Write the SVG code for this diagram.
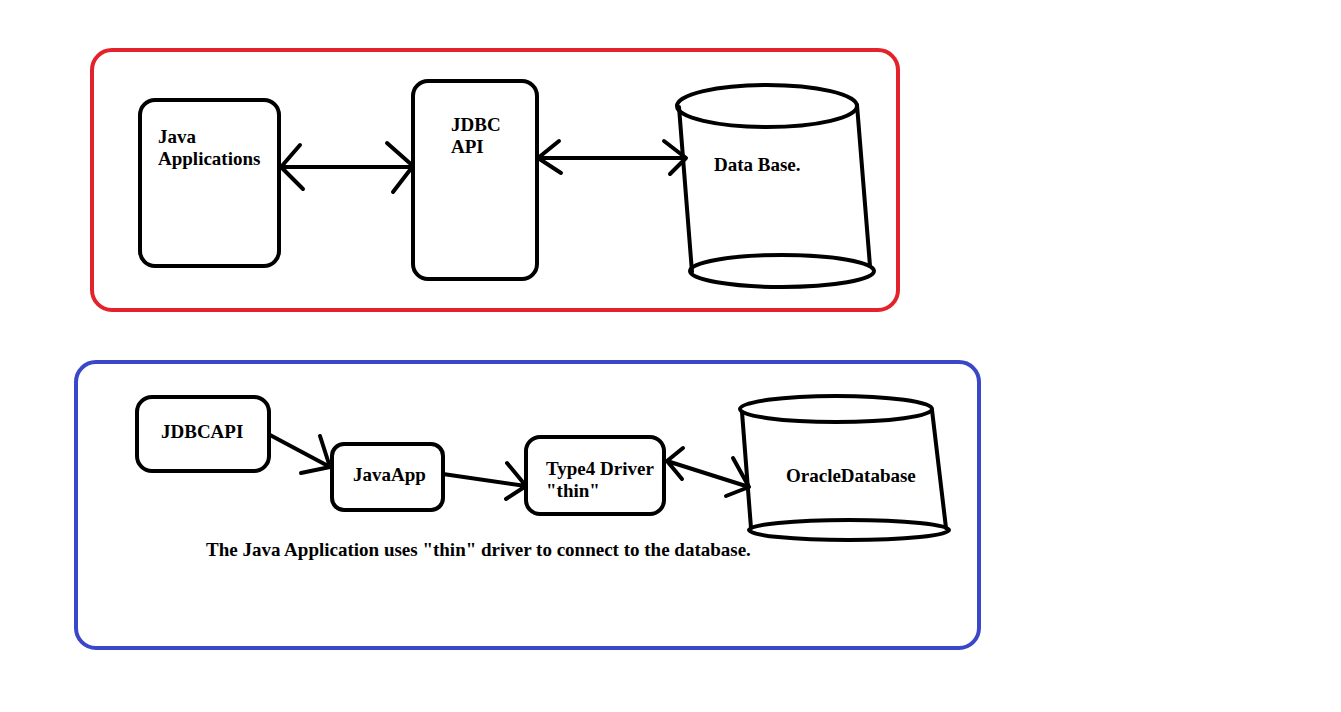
<svg xmlns="http://www.w3.org/2000/svg" width="1341" height="712" viewBox="0 0 1341 712">
<style>
.frame{fill:none;stroke-width:4}
.box{fill:#fff;stroke:#000;stroke-width:4}
.ln{fill:none;stroke:#000;stroke-width:4;stroke-linecap:round;stroke-linejoin:round}
.t{font-family:"Liberation Serif","Times New Roman",serif;font-weight:bold;font-size:19px;fill:#000}
</style>
<rect width="1341" height="712" fill="#fff"/>
<g id="frame-top"><rect class="frame" x="92" y="50" width="806" height="260" rx="20" stroke="#e3222b"/></g>
<g id="frame-bottom"><rect class="frame" x="76" y="362" width="903" height="286" rx="20" stroke="#3b47c9"/></g>

<g id="java-applications">
<rect class="box" x="140" y="100" width="139" height="166" rx="15"/>
<text class="t" x="158" y="143">Java</text>
<text class="t" x="158" y="165">Applications</text>
</g>
<g id="jdbc-api">
<rect class="box" x="413" y="81" width="124" height="198" rx="15"/>
<text class="t" x="451" y="131">JDBC</text>
<text class="t" x="451" y="153">API</text>
</g>
<g id="database">
<path class="ln" d="M679,107 L692,272 M857,105 L870,266"/>
<ellipse class="ln" cx="767" cy="106" rx="90" ry="21"/>
<ellipse class="ln" cx="782" cy="271" rx="92" ry="16"/>
<text class="t" x="714" y="171">Data Base.</text>
</g>

<g id="jdbcapi">
<rect class="box" x="137" y="397" width="132" height="74" rx="15"/>
<text class="t" x="161" y="438">JDBCAPI</text>
</g>
<g id="javaapp">
<rect class="box" x="332" y="444" width="111" height="66" rx="12"/>
<text class="t" x="353" y="481">JavaApp</text>
</g>
<g id="type4-driver">
<rect class="box" x="526" y="437" width="138" height="77" rx="14"/>
<text class="t" x="546" y="475">Type4 Driver</text>
<text class="t" x="546" y="497">"thin"</text>
</g>
<g id="oracle-database">
<path class="ln" d="M742,412 L751,528 M932,410 L946,528"/>
<ellipse class="ln" cx="836" cy="409" rx="96" ry="13"/>
<ellipse class="ln" cx="849" cy="530" rx="100" ry="10"/>
<text class="t" x="786" y="482">OracleDatabase</text>
</g>

<g id="connectors">
<path class="ln" d="M281,167 L413,167 M300,145 L281,167 L303,189 M387,143 L413,166 L393,192"/>
<path class="ln" d="M538,158 L686,158 M559,141 L538,158 L561,173 M664,141 L686,158 L670,174"/>
<path class="ln" d="M270,435 L330,467 M320,436 L330,467 L301,473"/>
<path class="ln" d="M443,474 L526,486 M507,463 L526,486 L506,499"/>
<path class="ln" d="M667,461 L749,487 M683,448 L667,461 L682,479 M733,458 L749,487 L726,496"/>
</g>

<g id="caption"><text class="t" x="206" y="556">The Java Application uses "thin" driver to connect to the database.</text></g>
</svg>
